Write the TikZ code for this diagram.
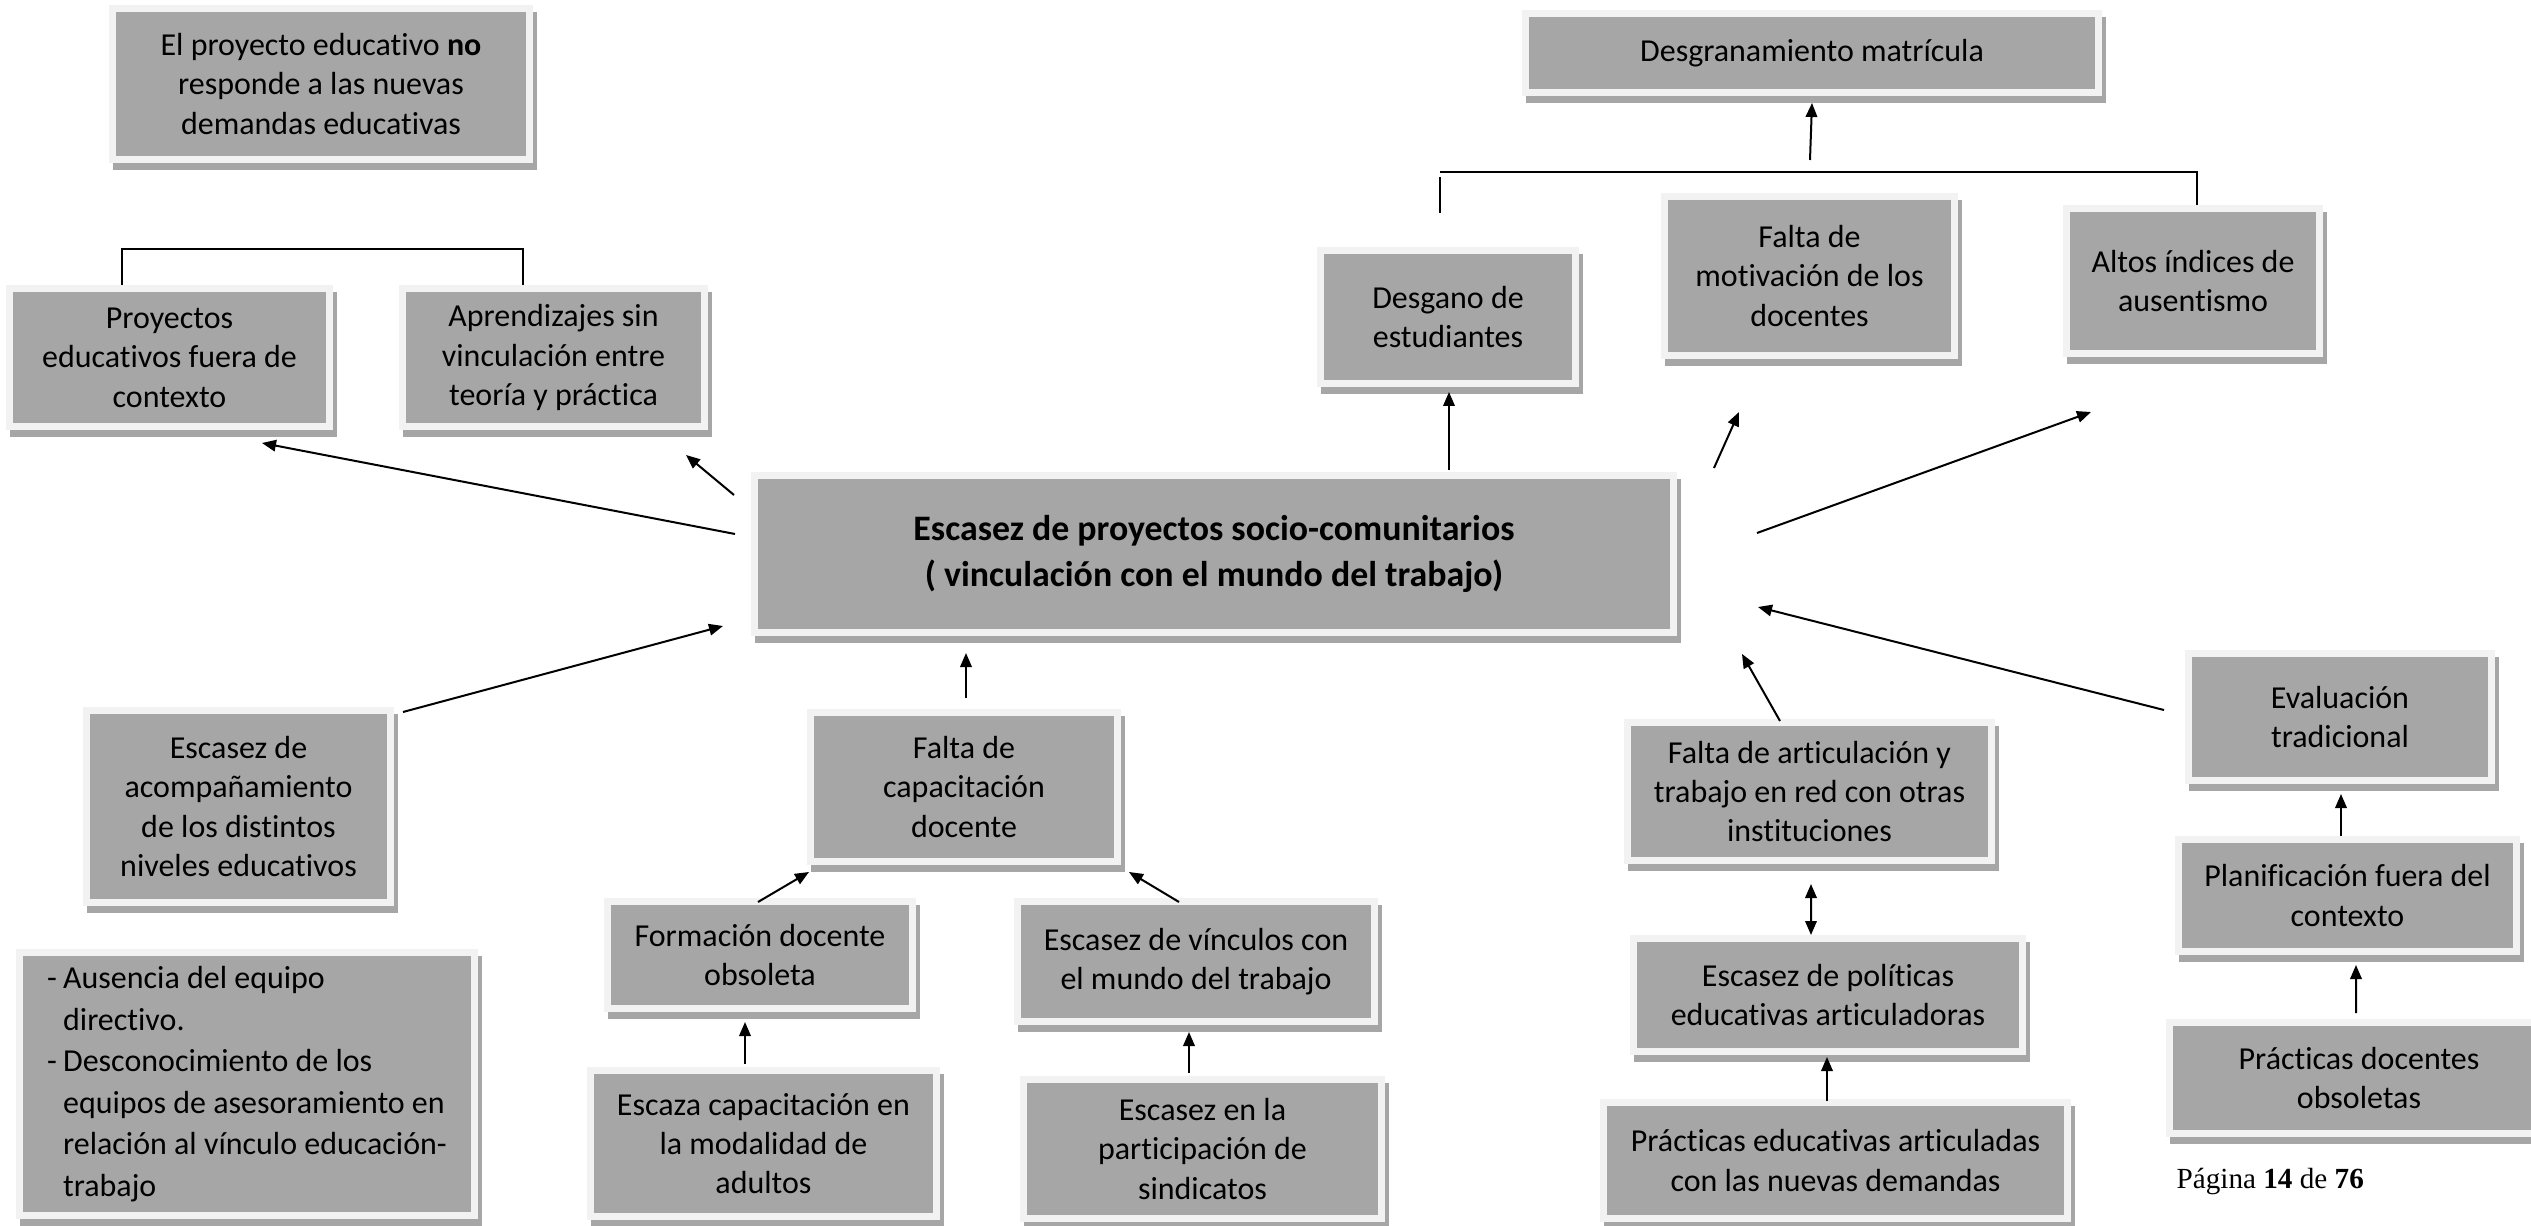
\documentclass[tikz,border=0pt]{standalone}
\usepackage{fontspec}
\setmainfont{Carlito}[Ligatures=NoCommon]
\newfontfamily\pgserif{Liberation Serif}
\usetikzlibrary{arrows.meta}
\definecolor{boxg}{HTML}{A6A6A6}
\definecolor{lightb}{HTML}{F2F2F2}
\definecolor{shd}{HTML}{A6A6A6}
\begin{document}
\begin{tikzpicture}[x=0.1mm,y=-0.1mm,
  box/.style={fill=boxg, draw=lightb, line width=0.7mm, inner sep=0pt, align=center,
    font=\fontsize{9.1pt}{11.2pt}\selectfont,
    preaction={draw=shd, fill=shd, line width=0.7mm, transform canvas={xshift=0.4mm,yshift=-0.7mm}}},
  arr/.style={line width=0.2mm, -{Triangle[length=1.4mm,width=1.15mm]}},
  dbl/.style={line width=0.2mm, {Triangle[length=1.4mm,width=1.15mm]}-{Triangle[length=1.4mm,width=1.15mm]}},
  brk/.style={line width=0.22mm}]
\fill[white] (0,0) rectangle (2531,1226);
\useasboundingbox (0,0) rectangle (2531,1226);

\node[box, minimum width=41.7mm, minimum height=15.1mm] (noresp) at (321,84) {El proyecto educativo \textbf{no}\\responde a las nuevas\\demandas educativas};
\node[box, minimum width=32.0mm, minimum height=13.8mm] (proy) at (169.5,357.5) {Proyectos\\educativos fuera de\\contexto};
\node[box, minimum width=30.2mm, minimum height=13.8mm] (aprend) at (553.5,357.5) {Aprendizajes sin\\vinculación entre\\teoría y práctica};
\node[box, minimum width=91.9mm, minimum height=15.7mm, font=\bfseries\fontsize{10.2pt}{13pt}\selectfont] (main) at (1214,554) {Escasez de proyectos socio-comunitarios\\( vinculación con el mundo del trabajo)};
\node[box, minimum width=30.4mm, minimum height=19.2mm] (acomp) at (238.5,806.5) {Escasez de\\acompañamiento\\de los distintos\\niveles educativos};
\node[box, minimum width=30.7mm, minimum height=14.9mm] (capac) at (964,787) {Falta de\\capacitación\\docente};
\node[box, minimum width=30.5mm, minimum height=10.7mm] (formac) at (760,955) {Formación docente\\obsoleta};
\node[box, minimum width=35.7mm, minimum height=12.0mm] (vinc) at (1196,961.5) {Escasez de vínculos con\\el mundo del trabajo};
\node[box, minimum width=34.6mm, minimum height=14.6mm] (escaza) at (763.5,1143.5) {Escaza capacitación en\\la modalidad de\\adultos};
\node[box, minimum width=35.8mm, minimum height=13.9mm] (sindic) at (1202.5,1149) {Escasez en la\\participación de\\sindicatos};
\node[box, minimum width=45.5mm, minimum height=26.3mm, align=left, font=\fontsize{9.1pt}{11.8pt}\selectfont] (ausen) at (247,1084) {\makebox[1.6mm][l]{-}Ausencia del equipo\\
\hspace*{1.6mm}directivo.\\
\makebox[1.6mm][l]{-}Desconocimiento de los\\
\hspace*{1.6mm}equipos de asesoramiento en\\
\hspace*{1.6mm}relación al vínculo educación-\\
\hspace*{1.6mm}trabajo};
\node[box, minimum width=57.3mm, minimum height=7.9mm] (desgr) at (1812,53) {Desgranamiento matrícula};
\node[box, minimum width=25.5mm, minimum height=13.3mm] (desgano) at (1448,317) {Desgano de\\estudiantes};
\node[box, minimum width=29.0mm, minimum height=15.9mm] (motiv) at (1809.5,276) {Falta de\\motivación de los\\docentes};
\node[box, minimum width=25.3mm, minimum height=14.5mm] (altos) at (2193,281) {Altos índices de\\ausentismo};
\node[box, minimum width=36.4mm, minimum height=13.8mm] (artic) at (1809.5,791.5) {Falta de articulación y\\trabajo en red con otras\\instituciones};
\node[box, minimum width=38.9mm, minimum height=11.3mm] (polit) at (1828,995) {Escasez de políticas\\educativas articuladoras};
\node[box, minimum width=46.4mm, minimum height=11.6mm] (practed) at (1835.5,1160.5) {Prácticas educativas articuladas\\con las nuevas demandas};
\node[box, minimum width=30.3mm, minimum height=12.7mm] (eval) at (2340,717) {Evaluación\\tradicional};
\node[box, minimum width=33.8mm, minimum height=11.2mm] (planif) at (2347.5,895.5) {Planificación fuera del\\contexto};
\node[box, minimum width=37.9mm, minimum height=11.1mm] (practdoc) at (2359,1078) {Prácticas docentes\\obsoletas};

\node[anchor=base west, inner sep=0pt, font=\pgserif\fontsize{8.3pt}{10pt}\selectfont] (pag) at (2176,1188) {Página \textbf{14} de \textbf{76}};

% brackets
\draw[brk] ([shift={(-47.5,0)}]proy.north) -- ++(0,-36) -| ([shift={(-30.5,0)}]aprend.north);
\coordinate (bl) at (1440,172);
\coordinate (bt) at (1810,160);
\draw[brk] ([shift={(4,0)}]altos.north) |- (bl);
\draw[brk] ([shift={(-8,-34)}]desgano.north) -- ++(0,-36);
\draw[arr] (bt) -- ([shift={(0,7)}]desgr.south);

% arrows
\draw[arr] ([shift={(-16,-20)}]main.west) -- ([shift={(92.5,13)}]proy.south);
\draw[arr] ([shift={(-17,-59)}]main.west) -- ([shift={(-22,25)}]aprend.south east);
\draw[arr] ([shift={(9,5)}]acomp.north east) -- ([shift={(-28,-10)}]main.south west);
\draw[arr] ([shift={(2,-11)}]capac.north) -- ([shift={(-248,17)}]main.south);
\draw[arr] ([shift={(-2,4)}]formac.north) -- ([shift={(2,7)}]capac.south west);
\draw[arr] ([shift={(-17,4)}]vinc.north) -- ([shift={(8,7)}]capac.south east);
\draw[arr] ([shift={(-18.5,-3)}]escaza.north) -- ([shift={(-15,10)}]formac.south);
\draw[arr] ([shift={(-13.5,-3)}]sindic.north) -- ([shift={(-7,7)}]vinc.south);
\draw[arr] ([shift={(235,-2)}]main.north) -- ([shift={(1,5)}]desgano.south);
\draw[arr] ([shift={(37,-4)}]main.north east) -- ([shift={(-70.5,53)}]motiv.south);
\draw[arr] ([shift={(80,-21)}]main.east) -- ([shift={(-102,55)}]altos.south);
\draw[arr] ([shift={(-21,-7)}]eval.west) -- ([shift={(81,53)}]main.east);
\draw[arr] ([shift={(-29.5,2)}]artic.north) -- ([shift={(65,18)}]main.south east);
\draw[dbl] ([shift={(1.5,20)}]artic.south) -- ([shift={(-17,0)}]polit.north);
\draw[arr] ([shift={(-8.5,2)}]practed.north) -- ([shift={(-1,2)}]polit.south);
\draw[arr] ([shift={(-6.5,0)}]planif.north) -- ([shift={(1,10)}]eval.south);
\draw[arr] ([shift={(-3,-6)}]practdoc.north) -- ([shift={(8.5,10)}]planif.south);
\end{tikzpicture}
\end{document}
